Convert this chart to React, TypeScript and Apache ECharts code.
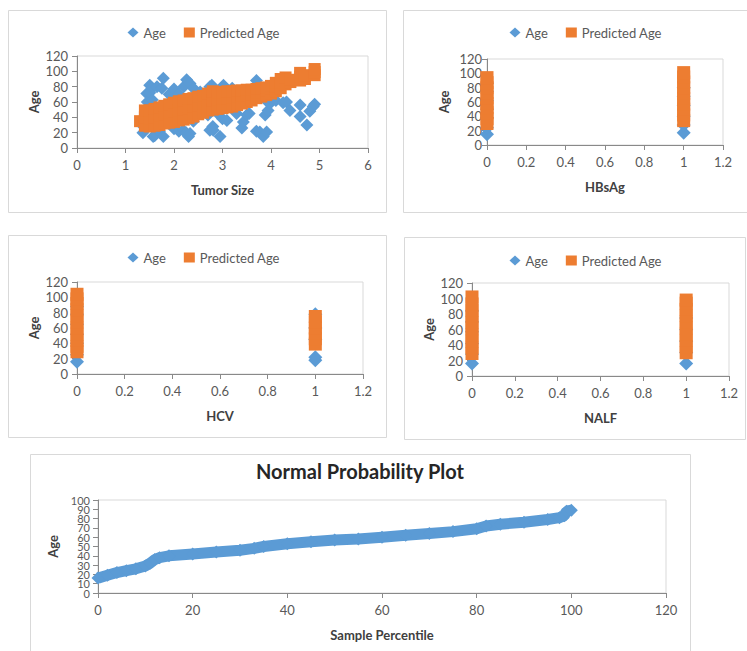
import React, { useEffect, useRef } from 'react';
import * as echarts from 'echarts';

const BLUE = '#5B9BD5';
const ORANGE = '#ED7D31';
const FONT = 'Lato, "Open Sans", sans-serif';

// Panel 1: Tumor Size vs Age
const tumorSizeObs = [1.36, 1.37, 1.44, 1.45, 1.5, 1.5, 1.5, 1.55, 1.55, 1.57, 1.6, 1.6, 1.65, 1.7, 1.7, 1.75, 1.78, 1.78, 1.8, 1.9, 2.0, 2.0, 2.0, 2.1, 2.1, 2.19, 2.2, 2.2, 2.25, 2.26, 2.3, 2.33, 2.33, 2.4, 2.4, 2.5, 2.5, 2.54, 2.65, 2.7, 2.74, 2.74, 2.78, 2.8, 2.81, 2.88, 2.9, 2.95, 3.0, 3.02, 3.09, 3.2, 3.29, 3.3, 3.4, 3.43, 3.5, 3.55, 3.7, 3.7, 3.77, 3.84, 3.88, 3.9, 3.91, 3.94, 3.98, 4.1, 4.25, 4.32, 4.39, 4.6, 4.6, 4.74, 4.8, 4.87, 4.9];
const ageObs = [20, 28, 71, 60, 82, 72, 30, 78, 63, 15, 16, 45, 80, 22, 35, 78, 91, 15, 50, 70, 77, 25, 40, 70, 22, 23, 80, 55, 20, 89, 15, 84, 19, 78, 35, 70, 63, 73, 60, 43, 80, 23, 82, 28, 23, 50, 45, 15, 38, 82, 36, 78, 45, 52, 26, 34, 43, 45, 88, 22, 21, 15, 43, 62, 21, 49, 58, 62, 59, 60, 49, 56, 41, 30, 48, 54, 57];
const tumorSizePred = [1.3, 1.4, 1.4, 1.4, 1.5, 1.5, 1.5, 1.6, 1.6, 1.6, 1.7, 1.7, 1.7, 1.8, 1.8, 1.8, 1.9, 1.9, 1.9, 2.0, 2.0, 2.0, 2.1, 2.1, 2.1, 2.2, 2.2, 2.2, 2.3, 2.3, 2.3, 2.4, 2.4, 2.4, 2.5, 2.5, 2.5, 2.6, 2.6, 2.6, 2.7, 2.7, 2.7, 2.8, 2.8, 2.8, 2.9, 2.9, 2.9, 3.0, 3.0, 3.0, 3.1, 3.1, 3.1, 3.2, 3.2, 3.2, 3.3, 3.3, 3.3, 3.4, 3.4, 3.4, 3.5, 3.5, 3.5, 3.6, 3.6, 3.6, 3.7, 3.7, 3.7, 3.8, 3.8, 3.8, 3.9, 3.9, 3.9, 4.0, 4.0, 4.0, 4.1, 4.1, 4.1, 4.2, 4.2, 4.2, 4.3, 4.3, 4.3, 4.4, 4.4, 4.6, 4.6, 4.6, 4.7, 4.7, 4.9, 4.9, 4.9];
const predictedAge = [35, 29, 40, 49, 28, 38, 49, 29, 40, 51, 30, 42, 53, 32, 44, 55, 33, 46, 57, 34, 48, 59, 36, 49, 61, 37, 50, 62, 39, 52, 64, 41, 54, 65, 44, 56, 67, 46, 58, 68, 49, 60, 71, 50, 62, 74, 51, 63, 73, 52, 64, 73, 53, 65, 74, 54, 66, 74, 56, 67, 75, 58, 68, 75, 60, 69, 76, 62, 70, 76, 65, 72, 77, 67, 73, 78, 69, 75, 79, 71, 77, 81, 74, 80, 85, 78, 85, 90, 83, 88, 92, 86, 89, 88, 93, 98, 90, 95, 95, 99, 103];

// Panel 2: HBsAg (0 / 1)
const hbsAgAge0 = [15, 24, 38, 50, 62, 75, 86];
const hbsAgAge1 = [17, 28, 40, 55, 68, 80];
const hbsAgPred0 = [30, 37, 45, 52, 58, 66, 73, 80, 87, 94];
const hbsAgPred1 = [34, 42, 50, 57, 65, 72, 80, 88, 95, 101];

// Panel 3: HCV (0 / 1)
const hcvAge0 = [16, 25, 40, 52, 65, 78, 88];
const hcvAge1 = [18, 22, 45, 60, 78];
const hcvPred0 = [29, 36, 44, 52, 60, 68, 76, 84, 92, 98, 104];
const hcvPred1 = [39, 46, 53, 60, 68, 75];

// Panel 4: NALF (0 / 1)
const nalfAge0 = [16, 28, 42, 57, 70, 84];
const nalfAge1 = [16, 30, 45, 60, 75];
const nalfPred0 = [29, 37, 45, 53, 61, 69, 77, 85, 93, 102];
const nalfPred1 = [30, 38, 46, 54, 62, 70, 78, 86, 94, 98];

// Panel 5: Normal probability plot
const samplePercentile = [0, 2, 4, 6, 8, 10, 11, 12, 13, 15, 20, 25, 30, 33, 35, 40, 45, 50, 55, 60, 65, 70, 75, 80, 82, 85, 90, 95, 97.5, 98.5, 99, 100];
const sortedAge = [16, 19, 22, 24, 26, 29, 32, 36, 38, 40, 42, 44, 46, 48, 50, 53, 55, 57, 58, 60, 62, 64, 66, 69, 72, 74, 76, 79, 81, 83, 88, 89];

const pairs = (xs: number[], ys: number[]) => xs.map((x, i) => [x, ys[i]]);
const atX = (x: number, ys: number[]) => ys.map((y) => [x, y]);

const AXIS_COLOR = '#898989';
const LABEL_COLOR = '#595959';
const NAME_COLOR = '#404040';

function xAxis(gridIndex: number, max: number, interval: number, name: string) {
  return {
    type: 'value', gridIndex, min: 0, max, interval, name,
    nameLocation: 'middle', nameGap: 35,
    nameTextStyle: { fontWeight: 'bold', fontSize: 13, color: NAME_COLOR, fontFamily: FONT },
    axisLine: { show: true, onZero: false, lineStyle: { color: AXIS_COLOR, width: 1 } },
    axisTick: { show: true, inside: false, length: 5, lineStyle: { color: AXIS_COLOR } },
    axisLabel: { color: LABEL_COLOR, fontSize: 13, margin: 10, fontFamily: FONT, showMinLabel: true, showMaxLabel: true },
    splitLine: { show: false },
  };
}
function yAxis(gridIndex: number, max: number, interval: number, margin: number, fontSize = 13) {
  return {
    type: 'value', gridIndex, min: 0, max, interval, name: 'Age',
    nameLocation: 'middle', nameGap: 37, nameRotate: 90,
    nameTextStyle: { fontWeight: 'bold', fontSize: 13, color: NAME_COLOR, fontFamily: FONT },
    axisLine: { show: true, onZero: false, lineStyle: { color: AXIS_COLOR, width: 1 } },
    axisTick: { show: true, inside: false, length: 5, lineStyle: { color: AXIS_COLOR } },
    axisLabel: { color: LABEL_COLOR, fontSize, margin, fontFamily: FONT, showMinLabel: true, showMaxLabel: true, hideOverlap: false },
    splitLine: { show: false },
  };
}
// Second label axis for the normal probability plot: odd tens (10, 30, ... 90)
const oddTensAxis = {
  type: 'value', gridIndex: 4, min: 0, max: 100, interval: 10, position: 'left', offset: 0,
  axisLine: { show: false },
  axisTick: { show: true, inside: false, length: 5, lineStyle: { color: AXIS_COLOR } },
  axisLabel: {
    color: LABEL_COLOR, fontSize: 11, margin: 8, fontFamily: FONT,
    showMinLabel: false, showMaxLabel: false, hideOverlap: false,
    formatter: (v: number) => (v % 20 === 0 ? '' : String(v)),
  },
  splitLine: { show: false },
};
function legend(left: number, top: number) {
  return {
    left, top, padding: 0, itemGap: 18, itemWidth: 11, itemHeight: 10, selectedMode: false,
    textStyle: { fontSize: 13, color: LABEL_COLOR, fontFamily: FONT },
    data: [{ name: 'Age', icon: 'diamond' }, { name: 'Predicted Age', icon: 'rect' }],
  };
}
const gridBase = { show: true, borderColor: '#d9d9d9', borderWidth: 1, backgroundColor: 'transparent', containLabel: false, outerBoundsMode: 'none' };
function border(x: number, y: number, w: number, h: number) {
  return { type: 'rect', silent: true, z: -10, shape: { x: x + 0.5, y: y + 0.5, width: w, height: h }, style: { fill: 'none', stroke: '#d9d9d9', lineWidth: 1 } };
}
function scatter(name: string, idx: number, data: number[][], size: number) {
  const blue = name === 'Age';
  return {
    type: 'scatter', name, xAxisIndex: idx, yAxisIndex: idx, data,
    symbol: blue ? 'diamond' : 'rect', symbolSize: size,
    itemStyle: { color: blue ? BLUE : ORANGE, opacity: 1 },
  };
}

export default function App() {
  const ref = useRef<HTMLDivElement>(null);
  useEffect(() => {
    const chart = echarts.init(ref.current!, null, { renderer: 'svg' });
    const option: any = {
      animation: false,
      backgroundColor: '#ffffff',
      textStyle: { fontFamily: FONT },
      graphic: [
        border(8, 10, 378, 202),
        border(403, 10, 350, 202),
        border(8, 235, 378, 202),
        border(404, 237, 341, 202),
        border(30, 454, 660, 200),
        {
          type: 'text', x: 360, y: 471, silent: true,
          style: { text: 'Normal Probability Plot', fill: '#262626', font: `bold 20px ${FONT}`, textAlign: 'center', textVerticalAlign: 'middle' },
        },
      ],
      legend: [legend(127.5, 26), legend(509.5, 26), legend(127.5, 251), legend(509.5, 254)],
      grid: [
        { ...gridBase, left: 77, top: 56, width: 291, height: 92 },
        { ...gridBase, left: 487, top: 59, width: 236, height: 86 },
        { ...gridBase, left: 77, top: 282, width: 286, height: 92 },
        { ...gridBase, left: 472, top: 283, width: 257, height: 93 },
        { ...gridBase, left: 98, top: 500, width: 568, height: 93 },
      ],
      xAxis: [
        xAxis(0, 6, 1, 'Tumor Size'),
        xAxis(1, 1.2, 0.2, 'HBsAg'),
        xAxis(2, 1.2, 0.2, 'HCV'),
        xAxis(3, 1.2, 0.2, 'NALF'),
        xAxis(4, 120, 20, 'Sample Percentile'),
      ],
      yAxis: [
        yAxis(0, 120, 20, 9),
        yAxis(1, 120, 20, 5),
        yAxis(2, 120, 20, 9),
        yAxis(3, 120, 20, 9),
        yAxis(4, 100, 20, 8, 11),
        oddTensAxis,
      ],
      series: [
        scatter('Age', 0, pairs(tumorSizeObs, ageObs), 13),
        scatter('Predicted Age', 0, pairs(tumorSizePred, predictedAge), 12),
        scatter('Age', 1, [...atX(0, hbsAgAge0), ...atX(1, hbsAgAge1)], 14),
        scatter('Predicted Age', 1, [...atX(0, hbsAgPred0), ...atX(1, hbsAgPred1)], 13),
        scatter('Age', 2, [...atX(0, hcvAge0), ...atX(1, hcvAge1)], 14),
        scatter('Predicted Age', 2, [...atX(0, hcvPred0), ...atX(1, hcvPred1)], 13),
        scatter('Age', 3, [...atX(0, nalfAge0), ...atX(1, nalfAge1)], 14),
        scatter('Predicted Age', 3, [...atX(0, nalfPred0), ...atX(1, nalfPred1)], 13),
        {
          type: 'line', name: 'Age', xAxisIndex: 4, yAxisIndex: 4,
          data: pairs(samplePercentile, sortedAge),
          symbol: 'diamond', symbolSize: 13, showSymbol: true,
          lineStyle: { color: BLUE, width: 11 }, itemStyle: { color: BLUE },
        },
      ],
    };
    chart.setOption(option);
    return () => chart.dispose();
  }, []);
  return (
    <div
      ref={ref}
      style={{ position: 'absolute', left: 0, top: 0, width: 747, height: 651, background: '#fff' }}
    />
  );
}
